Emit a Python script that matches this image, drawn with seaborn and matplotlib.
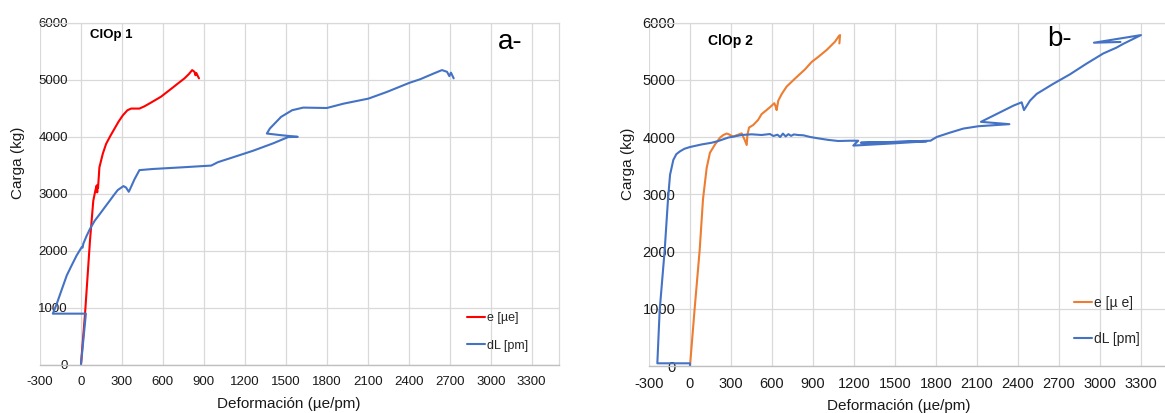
import matplotlib
matplotlib.use("Agg")
import matplotlib.pyplot as plt
import seaborn as sns

# Panel a - ClOp 1
a_e_x = [0, 30, 66, 90, 105, 115, 119, 122, 125, 135, 160, 184, 215, 245, 275, 306, 340, 367,
         400, 428, 465, 502, 545, 587, 630, 673, 715, 758, 790, 814, 831, 838, 844, 864]
a_e_y = [0, 900, 2175, 2870, 3050, 3140, 3020, 3150, 3100, 3460, 3700, 3870, 4010, 4135, 4260,
         4370, 4460, 4490, 4490, 4490, 4530, 4580, 4640, 4700, 4780, 4860, 4940, 5020, 5095,
         5165, 5135, 5075, 5115, 5020]
a_dl_x = [0, 36, -206, -177, -140, -104, -68, -32, 5, 12, 17, 40, 66, 100, 138, 175, 211, 240,
          269, 311, 330, 350, 360, 392, 428, 526, 746, 954, 1003, 1113, 1260, 1407, 1517, 1587,
          1465, 1361, 1383, 1465, 1546, 1627, 1800, 1922, 2105, 2240, 2403, 2484, 2582, 2643,
          2680, 2697, 2709, 2729]
a_dl_y = [0, 892, 892, 1067, 1320, 1563, 1740, 1912, 2058, 2050, 2117, 2250, 2380, 2520, 2640,
          2760, 2875, 2970, 3060, 3130, 3105, 3030, 3080, 3250, 3410, 3430, 3460, 3490, 3550,
          3635, 3750, 3880, 3990, 3994, 4023, 4052, 4140, 4344, 4461, 4507, 4500, 4576, 4665,
          4782, 4940, 5005, 5105, 5165, 5135, 5060, 5120, 5020]

# Panel b - ClOp 2
b_e_x = [0, 34, 71, 95, 122, 146, 183, 220, 244, 268, 280, 305, 317, 340, 366, 378, 400, 415,
         420, 432, 463, 498, 524, 555, 585, 617, 627, 634, 646, 671, 707, 768, 841, 890, 939,
         1000, 1061, 1090, 1098, 1093]
b_e_y = [0, 1000, 2030, 2910, 3460, 3725, 3870, 3990, 4035, 4060, 4052, 4020, 4005, 4030, 4052,
         4064, 3950, 3860, 4035, 4165, 4210, 4297, 4400, 4460, 4520, 4590, 4530, 4470, 4635,
         4750, 4880, 5020, 5180, 5310, 5400, 5520, 5665, 5765, 5780, 5635]
b_dl_x = [0, 0, -239, -222, -185, -161, -146, -122, -100, -73, -40, 0, 85, 159, 207, 280, 378,
          451, 524, 585, 610, 640, 660, 680, 700, 720, 740, 760, 790, 829, 880, 939, 1010, 1085,
          1170, 1231, 1195, 1500, 1732, 1250, 1500, 1760, 1805, 1902, 2000, 2110, 2337, 2129,
          2268, 2366, 2427, 2444, 2488, 2537, 2659, 2780, 2902, 3024, 3120, 3168, 3300, 2956,
          3150]
b_dl_y = [0, 47, 47, 970, 2030, 2910, 3340, 3600, 3700, 3750, 3795, 3825, 3870, 3900, 3930,
          3990, 4035, 4047, 4035, 4052, 4018, 4040, 4000, 4060, 4010, 4050, 4020, 4045, 4035,
          4030, 4000, 3976, 3950, 3930, 3935, 3935, 3850, 3890, 3925, 3900, 3915, 3935, 4000,
          4076, 4147, 4188, 4224, 4265, 4430, 4547, 4606, 4470, 4635, 4753, 4930, 5094, 5282,
          5459, 5560, 5624, 5780, 5647, 5660]

x_ticks = list(range(-300, 3301, 300))
y_ticks = list(range(0, 6001, 1000))

sns.set_theme(style="white")
plt.rcParams["font.family"] = ["Liberation Sans", "DejaVu Sans"]
plt.rcParams["axes.unicode_minus"] = False

fig = plt.figure(figsize=(11.65, 4.13), dpi=100)
ax_a = fig.add_axes([40 / 1165, 1 - 364.5 / 413, 519 / 1165, 342 / 413])
ax_b = fig.add_axes([649 / 1165, 1 - 366 / 413, 519.3 / 1165, 343.5 / 413])

blue = "#4472c4"


def style_axes(ax, fs, ypad):
    ax.set_xlim(-300, 3500)
    ax.set_ylim(0, 6000)
    ax.set_xticks(x_ticks)
    ax.set_yticks(y_ticks)
    ax.grid(True, color="#d9d9d9", linewidth=0.9)
    ax.set_axisbelow(True)
    ax.tick_params(axis="both", length=0, labelsize=fs, colors="#1a1a1a")
    ax.tick_params(axis="y", pad=ypad)
    ax.tick_params(axis="x", pad=8)
    for side in ["top", "right"]:
        ax.spines[side].set_color("#d9d9d9")
        ax.spines[side].set_linewidth(0.9)
    ax.spines["left"].set_visible(False)
    ax.spines["bottom"].set_color("#bfbfbf")
    ax.spines["bottom"].set_linewidth(1.0)
    ax.set_xlabel("Deformación (µe/pm)", fontsize=11, color="#1a1a1a")
    ax.set_ylabel("Carga (kg)", fontsize=11, color="#1a1a1a")


# panel a
sns.lineplot(x=a_e_x, y=a_e_y, sort=False, estimator=None, color="#ff0000",
             linewidth=1.5, label="e [µe]", ax=ax_a)
sns.lineplot(x=a_dl_x, y=a_dl_y, sort=False, estimator=None, color=blue,
             linewidth=1.5, label="dL [pm]", ax=ax_a)
style_axes(ax_a, 9.5, -20)
ax_a.xaxis.set_label_coords(0.48, -0.095)
ax_a.yaxis.set_label_coords(-0.029, 0.59)
ax_a.text(0.138, 0.963, "ClOp 1", transform=ax_a.transAxes, fontsize=9.5,
          fontweight="bold", ha="center", va="center", color="black")
ax_a.text(0.906, 0.944, "a-", transform=ax_a.transAxes, fontsize=20,
          ha="center", va="center", color="black")
ax_a.legend(loc="center left", bbox_to_anchor=(0.822, 0.095), frameon=False,
            fontsize=9, handlelength=1.5, handletextpad=0.15, labelspacing=1.25,
            borderpad=0, borderaxespad=0, labelcolor="#262626")

# panel b
sns.lineplot(x=b_e_x, y=b_e_y, sort=False, estimator=None, color="#ed7d31",
             linewidth=1.5, label="e [µ e]", ax=ax_b)
sns.lineplot(x=b_dl_x, y=b_dl_y, sort=False, estimator=None, color=blue,
             linewidth=1.5, label="dL [pm]", ax=ax_b)
style_axes(ax_b, 10.5, -19)
ax_b.spines["right"].set_visible(False)
ax_b.xaxis.set_label_coords(0.48, -0.096)
ax_b.yaxis.set_label_coords(-0.027, 0.59)
ax_b.text(0.157, 0.947, "ClOp 2", transform=ax_b.transAxes, fontsize=10,
          fontweight="bold", ha="center", va="center", color="black")
ax_b.text(0.791, 0.952, "b-", transform=ax_b.transAxes, fontsize=20,
          ha="center", va="center", color="black")
ax_b.legend(loc="center left", bbox_to_anchor=(0.818, 0.131), frameon=False,
            fontsize=10, handlelength=1.3, handletextpad=0.15, labelspacing=1.55,
            borderpad=0, borderaxespad=0, labelcolor="#262626")

fig.savefig("out.png", dpi=100)
